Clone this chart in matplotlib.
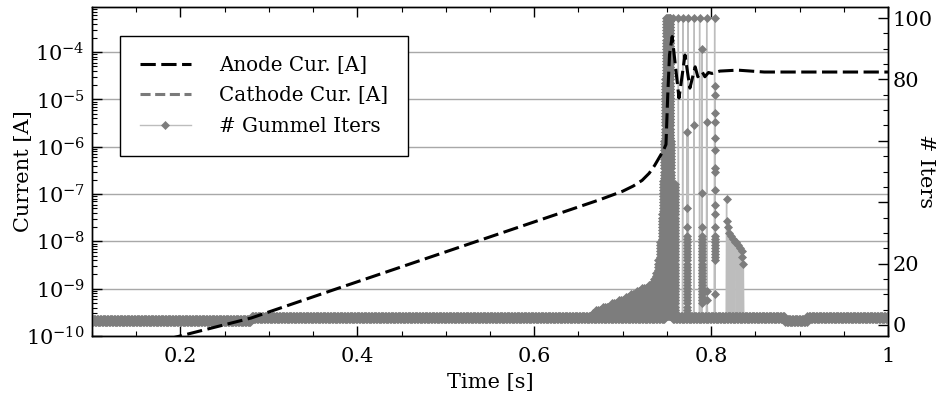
import numpy as np
import matplotlib
matplotlib.use("Agg")
import matplotlib.pyplot as plt
from matplotlib.ticker import (LogLocator, MultipleLocator, FixedLocator,
                               FuncFormatter, NullFormatter)

plt.rcParams['font.family'] = 'DejaVu Serif'
plt.rcParams['mathtext.fontset'] = 'dejavuserif'
plt.rcParams['font.size'] = 15
plt.rcParams['path.simplify'] = False

# anode current (log10 of the current in A)
anode_t = [0.185, 0.280, 0.377, 0.674, 0.700, 0.712, 0.722, 0.730, 0.736,
           0.741, 0.746, 0.749, 0.751, 0.753, 0.756, 0.7637, 0.7705, 0.776,
           0.782, 0.785, 0.790, 0.793, 0.797, 0.801, 0.810, 0.830, 0.860,
           0.900, 1.000]
anode_log = [-10.07, -9.62, -9.00, -7.12, -6.94, -6.83, -6.71, -6.56, -6.40,
             -6.24, -6.08, -5.95, -4.90, -4.05, -3.67, -4.97, -4.06, -4.76,
             -4.31, -4.52, -4.42, -4.52, -4.43, -4.45, -4.40, -4.38, -4.42,
             -4.42, -4.42]
anode_cur = [10 ** v for v in anode_log]

# cathode current is not visible anywhere on the log axis -> legend only
cathode_t = []
cathode_cur = []

# gummel iterations
# steady stretches: the count flips between two values each step
run_start = [0.100, 0.280, 0.757, 0.884, 0.908]
run_end = [0.280, 0.748, 0.884, 0.908, 1.001]
run_lo = [1, 2, 2, 1, 2]
run_hi = [2, 3, 3, 2, 3]
run_dt = 0.0008

# dense columns before the breakdown: time, highest count
ramp_t = [0.664, 0.666, 0.668, 0.670, 0.672, 0.674, 0.676, 0.678, 0.680,
          0.682, 0.684, 0.686, 0.688, 0.690, 0.692, 0.694, 0.696, 0.698,
          0.700, 0.702, 0.704, 0.706, 0.708, 0.710, 0.712, 0.714, 0.716,
          0.718, 0.720, 0.722, 0.724, 0.726, 0.728, 0.730, 0.732, 0.734,
          0.736, 0.738, 0.740, 0.742, 0.744, 0.746, 0.747, 0.748, 0.749,
          0.750, 0.751, 0.752, 0.753, 0.754, 0.755]
ramp_top = [3, 4, 4, 5, 5, 5, 5, 6, 6,
            6, 6, 6, 7, 7, 7, 7, 8, 8,
            8, 8, 9, 9, 9, 10, 10, 10, 11,
            11, 11, 12, 12, 12, 12, 13, 13, 14,
            15, 17, 21, 27, 36, 47, 60, 80, 100,
            100, 100, 100, 100, 100, 60]

# columns after the failed steps: time, top, bottom
col_t = [0.7592, 0.7728, 0.7897, 0.8044]
col_top = [46, 29, 29, 29]
col_bot = [4, 4, 7, 21]

# single points
pt_t = [0.757, 0.763, 0.768, 0.774, 0.781, 0.787, 0.795, 0.804,
        0.7728, 0.7728, 0.7728, 0.781,
        0.7897, 0.7897, 0.7897, 0.7955, 0.7955, 0.7955,
        0.8044, 0.8044, 0.8044, 0.8044, 0.8044, 0.8044, 0.8044, 0.8044,
        0.8044, 0.8044, 0.8044, 0.8044, 0.8044,
        0.8175, 0.8185, 0.8195, 0.8205, 0.8225, 0.8245, 0.8265, 0.8285,
        0.8305, 0.8325, 0.8345, 0.8355, 0.8365]
pt_v = [100, 100, 100, 100, 100, 100, 100, 100,
        63, 38, 32, 65,
        90, 43, 32, 66, 11, 8,
        78, 75, 69, 66, 61, 57, 51, 50, 44, 39, 36, 32, 10,
        41, 34, 32, 30, 29, 28, 27, 27, 26, 25, 24, 22, 20]

it_t, it_v = [], []
for t0, t1, lo, hi in zip(run_start, run_end, run_lo, run_hi):
    for i, t in enumerate(np.arange(t0, t1, run_dt)):
        it_t.append(t)
        it_v.append(lo if i % 2 == 0 else hi)
for t, top in zip(ramp_t, ramp_top):
    for v in range(3, top + 1):
        it_t.append(t)
        it_v.append(v)
for t, top, bot in zip(col_t, col_top, col_bot):
    for v in range(top, bot - 1, -1):
        it_t.append(t)
        it_v.append(v)
it_t += pt_t
it_v += pt_v
order = np.argsort(it_t, kind='stable')
it_t = np.array(it_t)[order]
it_v = np.array(it_v)[order]

fig = plt.figure(figsize=(9.38, 4.08), dpi=100)
ax = fig.add_axes([0.098, 0.1765, 0.8487, 0.8063])
ax2 = ax.twinx()
ax3 = ax.twinx()
ax2.set_zorder(ax.get_zorder() + 1)
ax3.set_zorder(ax.get_zorder() + 2)

# left axis: grid + ticks
ax.set_yscale('log')
ax.set_ylim(1e-10, 9e-4)
ax.set_xlim(0.1, 1.0)
ax.yaxis.set_major_locator(LogLocator(base=10, numticks=20))
ax.yaxis.set_minor_locator(LogLocator(base=10, subs=np.arange(2, 10), numticks=20))
ax.yaxis.set_minor_formatter(NullFormatter())
ax.xaxis.set_major_locator(MultipleLocator(0.2))
ax.xaxis.set_minor_locator(MultipleLocator(0.05))
ax.xaxis.set_major_formatter(FuncFormatter(lambda x, p: f'{x:g}'))
ax.tick_params(which='both', direction='in', top=True, right=False)
ax.tick_params(which='major', length=7, width=1)
ax.tick_params(which='minor', length=3.5, width=0.8)
ax.tick_params(axis='x', pad=8)
ax.tick_params(axis='y', pad=5)
ax.grid(axis='y', which='major', color='#a8a8a8', lw=1.0)
ax.set_xlabel('Time [s]', labelpad=5)
ax.set_ylabel('Current [A]', va='center')
ax.yaxis.set_label_coords(-0.086, 0.5)

# right axis: iterations
ax2.plot(it_t, it_v, '-', color='#bdbdbd', lw=1.0, marker='D', ms=4.3,
         mfc='#7d7d7d', mec='#7d7d7d', mew=0.5, label='# Gummel Iters')
ax2.set_ylim(-3.6, 103.6)
ax2.yaxis.set_major_locator(FixedLocator([0, 20, 40, 60, 80, 100]))
ax2.yaxis.set_major_formatter(FuncFormatter(lambda v, p: '' if v in (40, 60) else f'{v:g}'))
ax2.yaxis.set_minor_locator(MultipleLocator(5))
ax2.tick_params(which='both', direction='in', pad=3)
ax2.tick_params(which='major', length=7, width=1)
ax2.tick_params(which='minor', length=3.5, width=0.8)
ax2.set_ylabel('# Iters', rotation=270, va='center', ha='center')
ax2.yaxis.set_label_coords(1.0465, 0.5)

# currents on top
ax3.set_yscale('log')
ax3.set_ylim(1e-10, 9e-4)
ax3.plot(cathode_t, cathode_cur, color='#7a7a7a', lw=2.2, dashes=(3.3, 1.5),
         label='Cathode Cur. [A]')
ax3.plot(anode_t, anode_cur, color='black', lw=2.2, dashes=(5, 1.8),
         label='Anode Cur. [A]')
ax3.axis('off')

for a in (ax, ax2):
    for s in a.spines.values():
        s.set_linewidth(1.0)

h3, l3 = ax3.get_legend_handles_labels()
h2, l2 = ax2.get_legend_handles_labels()
handles = [h3[1], h3[0], h2[0]]
labels = [l3[1], l3[0], l2[0]]
leg = ax3.legend(handles, labels, loc='upper left', bbox_to_anchor=(0.035, 0.912),
                 borderaxespad=0, fancybox=False, framealpha=1, edgecolor='black',
                 fontsize=14.3, handlelength=2.6, handletextpad=1.4,
                 borderpad=1.0, labelspacing=0.58)
leg.get_frame().set_linewidth(1.0)

fig.savefig('out.png', dpi=100)
